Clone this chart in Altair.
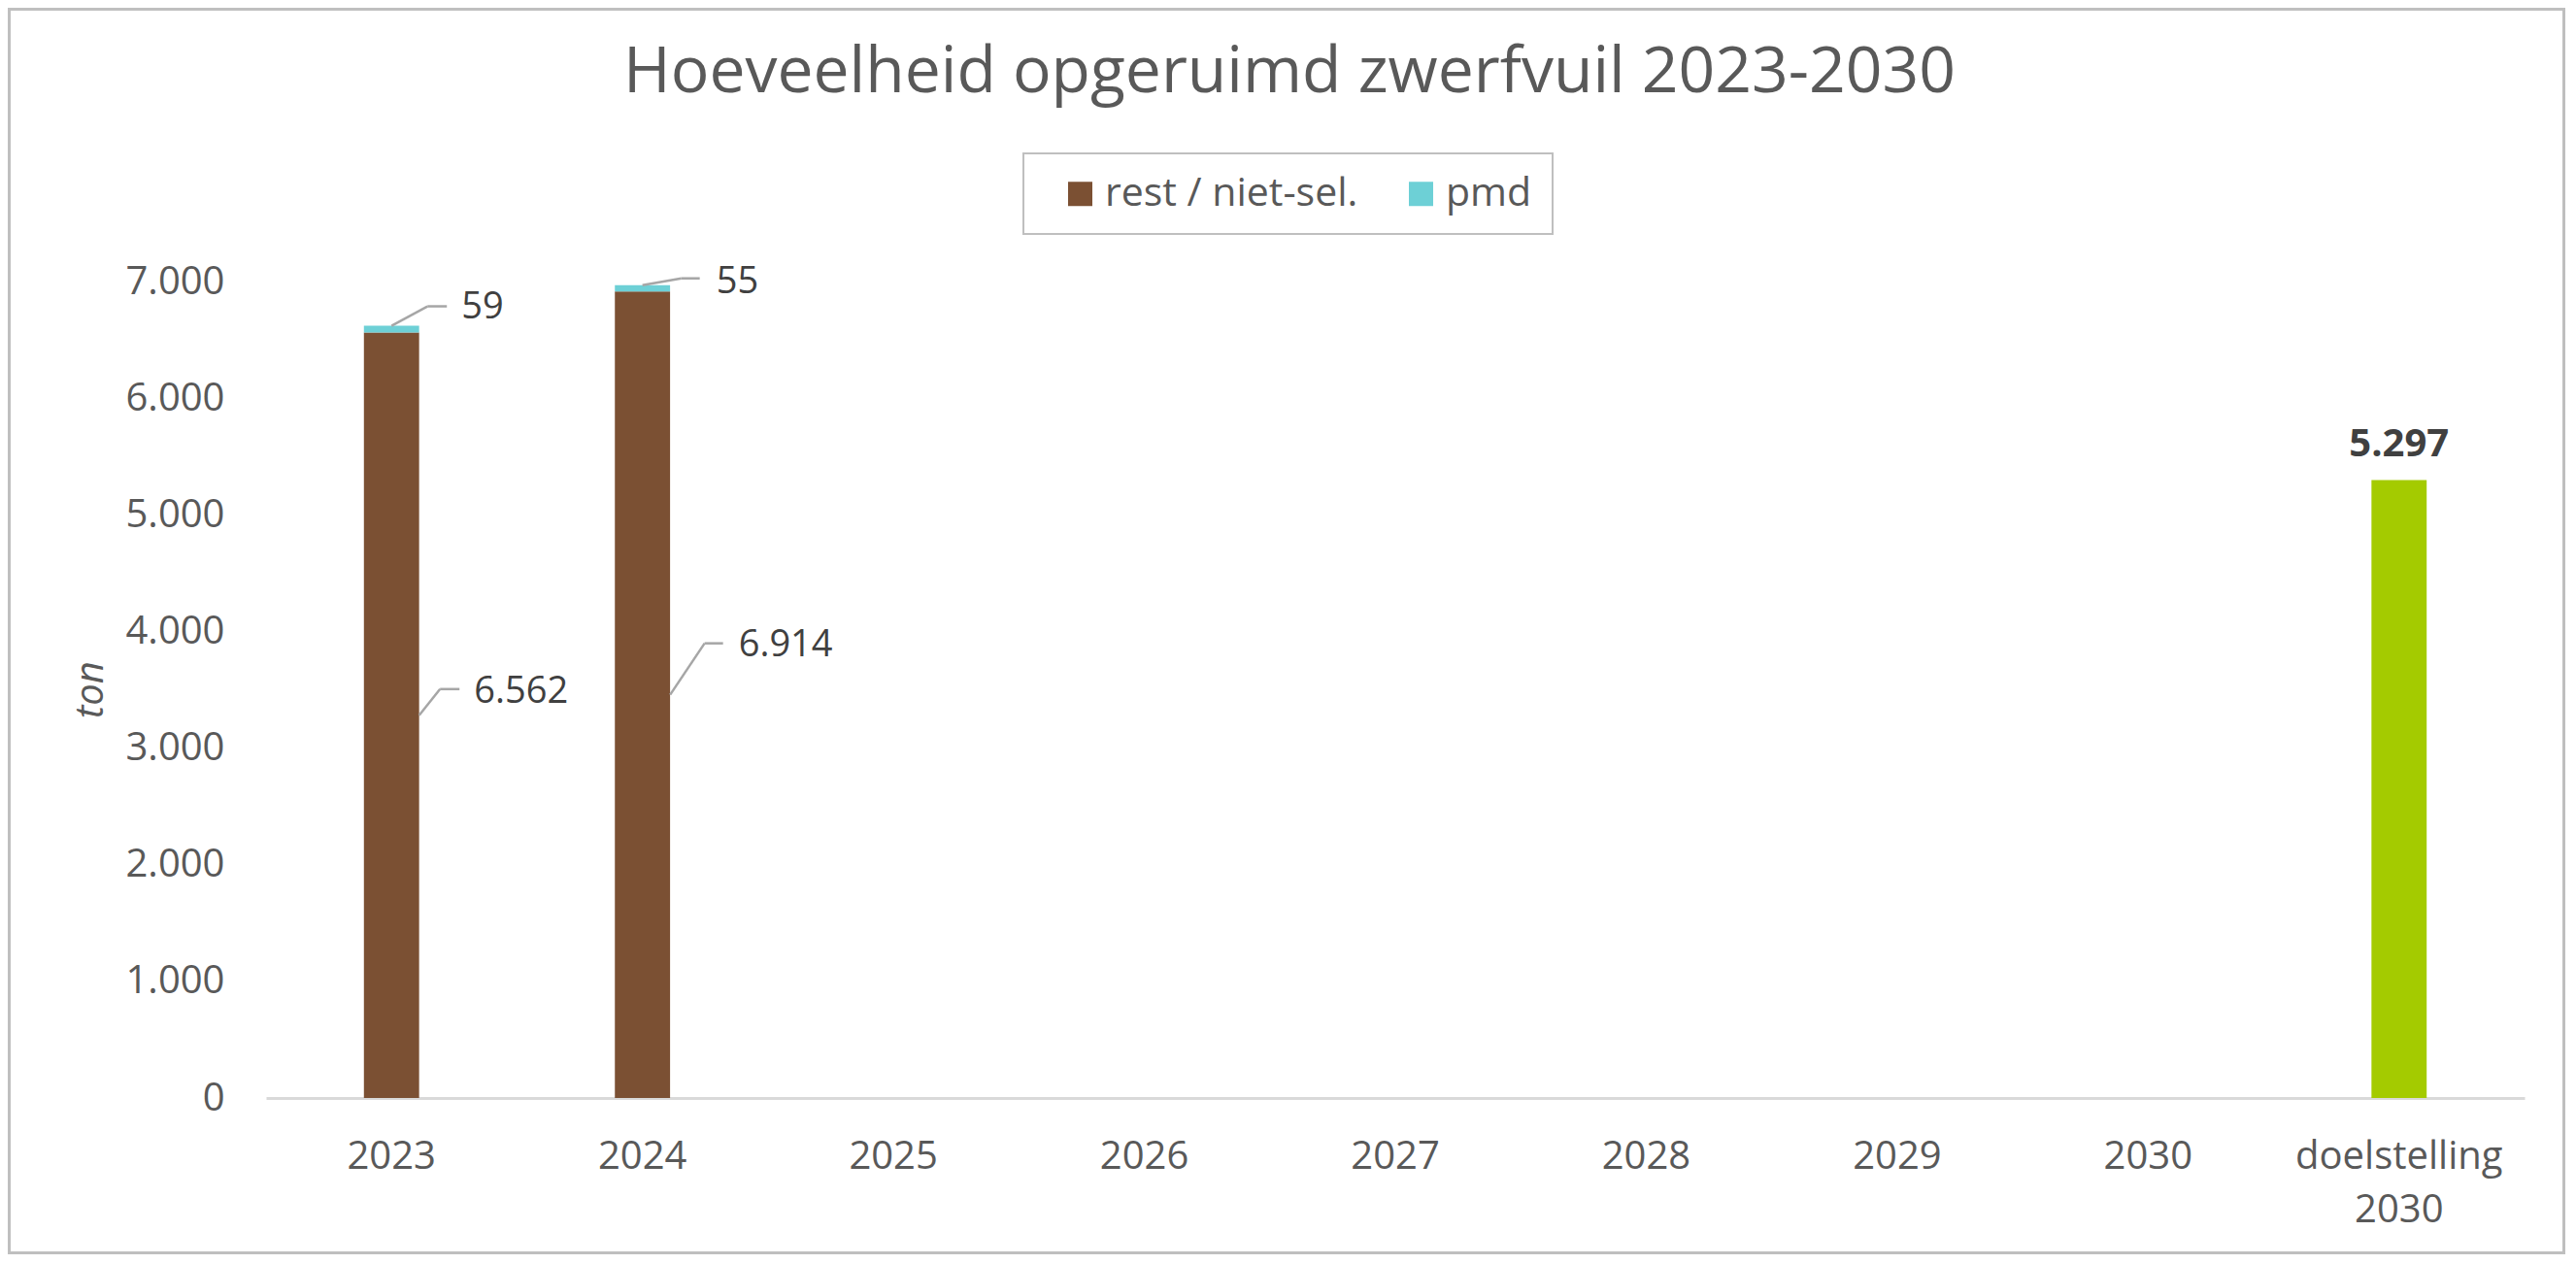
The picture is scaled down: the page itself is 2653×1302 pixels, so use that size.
import altair as alt
import pandas as pd

# ---------------- data ----------------
categories = ["2023", "2024", "2025", "2026", "2027", "2028", "2029", "2030", "doelstelling 2030"]
data_years = ["2023", "2024"]
rest_values = [6562, 6914]
pmd_values = [59, 55]
goal_category = "doelstelling 2030"
goal_value = 5297
series_names = ["rest / niet-sel.", "pmd"]
series_colors = ["#7B5033", "#6DD0D6"]
goal_color = "#A4CB00"
y_ticks = [0, 1000, 2000, 3000, 4000, 5000, 6000, 7000]

FONT = "Open Sans"
AXIS_GREY = "#595959"
LABEL_DARK = "#404040"
LEADER = "#A6A6A6"
BORDER = "#BFBFBF"


def nl(v):
    return f"{v:,}".replace(",", ".")


rows = []
for yr, r, p in zip(data_years, rest_values, pmd_values):
    rows.append(dict(cat=yr, series=series_names[0], start=0, end=r))
    rows.append(dict(cat=yr, series=series_names[1], start=r, end=r + p))
stack_df = pd.DataFrame(rows)
goal_df = pd.DataFrame({"cat": [goal_category], "value": [goal_value], "label": [nl(goal_value)]})

x_scale = alt.Scale(domain=categories, paddingInner=0.78, paddingOuter=0.39)
y_scale = alt.Scale(domain=[0, 7000], nice=False)

x_axis = alt.Axis(
    title=None, labelAngle=0, labelFont=FONT, labelFontSize=40, labelColor=AXIS_GREY,
    labelPadding=40, labelLineHeight=55, labelLimit=0, ticks=False, domainColor="#D9D9D9",
    domainWidth=3, grid=False,
    labelExpr="datum.value == 'doelstelling 2030' ? ['doelstelling', '2030'] : datum.value",
)
y_axis = alt.Axis(
    title="ton", titleFont=FONT, titleFontSize=40, titleFontStyle="italic", titleFontWeight="normal",
    titleColor=AXIS_GREY, titleAngle=270, titleX=-181, titleY=420, titleAlign="center",
    titleBaseline="middle",
    values=y_ticks, labelFont=FONT, labelFontSize=40, labelColor=AXIS_GREY, labelPadding=43,
    ticks=False, domain=False, grid=False,
    labelExpr="replace(format(datum.value, ','), ',', '.')",
)


def X():
    return alt.X("cat:N", scale=x_scale, axis=x_axis, sort=categories)


def Y(field):
    return alt.Y(field, scale=y_scale, axis=y_axis)


legend = alt.Legend(
    title=None, orient="none", legendX=818, legendY=-111, direction="horizontal",
    symbolType="square", symbolSize=625, symbolStrokeWidth=0, labelFont=FONT,
    labelFontSize=41, labelColor=AXIS_GREY, labelOffset=5, columnPadding=44, labelLimit=0,
    padding=0,
)

# decorative frames: outer chart border and legend box
frame = alt.Chart(alt.Data(values=[{}])).mark_rect(
    fill="white", fillOpacity=0, stroke=BORDER, strokeWidth=3
).encode(
    x=alt.value(-264.5), x2=alt.value(2366.5), y=alt.value(-280.5), y2=alt.value(1000.5)
)
legend_box = alt.Chart(alt.Data(values=[{}])).mark_rect(
    fill="white", stroke=BORDER, strokeWidth=2
).encode(
    x=alt.value(780), x2=alt.value(1325), y=alt.value(-132), y2=alt.value(-49)
)

bars = alt.Chart(stack_df).mark_bar().encode(
    x=X(),
    y=Y("start:Q"),
    y2="end:Q",
    color=alt.Color("series:N", scale=alt.Scale(domain=series_names, range=series_colors), legend=legend),
)

goal_bar = alt.Chart(goal_df).mark_bar(color=goal_color).encode(x=X(), y=Y("value:Q"))
goal_text = alt.Chart(goal_df).mark_text(
    font=FONT, fontSize=40, fontWeight="bold", color=LABEL_DARK, baseline="middle", dy=-37
).encode(x=X(), y=Y("value:Q"), text="label:N")


def leader(cat, anchor, text, x0, x1, y1, x2, tx, ty):
    df = pd.DataFrame({"cat": [cat], "v": [anchor], "label": [text]})
    base = alt.Chart(df)
    enc = dict(x=X(), x2="cat:N", y=Y("v:Q"), y2="v:Q")
    seg1 = base.mark_rule(color=LEADER, strokeWidth=2.5, xOffset=x0, x2Offset=x1, yOffset=0, y2Offset=y1).encode(**enc)
    seg2 = base.mark_rule(color=LEADER, strokeWidth=2.5, xOffset=x1, x2Offset=x2, yOffset=y1, y2Offset=y1).encode(**enc)
    txt = base.mark_text(
        font=FONT, fontSize=38, color=LABEL_DARK, align="left", baseline="middle", dx=tx, dy=ty
    ).encode(x=X(), y=Y("v:Q"), text="label:N")
    return [seg1, seg2, txt]


leaders = []
# pmd labels (anchored at top of stacked bar, centre)
leaders += leader(data_years[0], rest_values[0] + pmd_values[0], nl(pmd_values[0]), 0, 37, -20, 57, 72, -19)
leaders += leader(data_years[1], rest_values[1] + pmd_values[1], nl(pmd_values[1]), 0, 40, -7, 59, 76, -3)
# rest labels (anchored at middle of the rest segment, right edge)
leaders += leader(data_years[0], rest_values[0] / 2, nl(rest_values[0]), 28.5, 50, -27, 70, 85, -24)
leaders += leader(data_years[1], rest_values[1] / 2, nl(rest_values[1]), 28.5, 64, -53, 83, 99, -51)

chart = alt.layer(frame, legend_box, bars, goal_bar, goal_text, *leaders).properties(
    width=2326,
    height=841,
    autosize=alt.AutoSizeParams(type="none"),
    padding={"left": 266, "top": 282, "right": 42, "bottom": 161},
    title=alt.TitleParams(
        "Hoeveelheid opgeruimd zwerfvuil 2023-2030", font=FONT, fontSize=66, fontWeight="normal",
        color=AXIS_GREY, anchor="middle", frame="group", baseline="alphabetic", offset=0,
        dx=-109, dy=153,
    ),
    background="white",
).configure_view(stroke=None)

chart.save("out.html", embed_options={"renderer": "svg", "actions": False})
